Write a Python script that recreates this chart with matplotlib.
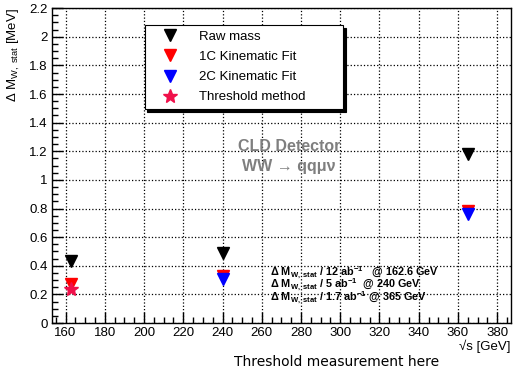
import numpy as np
import matplotlib
matplotlib.use("Agg")
from matplotlib import pyplot as plt
from matplotlib.ticker import MultipleLocator

plt.rcParams['font.family'] = ['Liberation Sans', 'DejaVu Sans']
plt.rcParams['mathtext.fontset'] = 'custom'
plt.rcParams['mathtext.rm'] = 'Liberation Sans'
plt.rcParams['mathtext.bf'] = 'Liberation Sans:bold'
plt.rcParams['mathtext.it'] = 'Liberation Sans:italic'
plt.rcParams['mathtext.default'] = 'regular'

# energies (GeV)
sqrt_s = [162.6, 240, 365]
raw_mass = [0.43, 0.49, 1.18]
fit_1c = [0.27, 0.33, 0.785]
fit_2c_s = [240, 365]
fit_2c = [0.31, 0.765]
thr_s = [162.6]
thr = [0.24]

lumi_labels = [r'$\Delta$ M$_{\mathbf{W,\ stat}}$ / 12 ab$^{\mathbf{-1}}$   @ 162.6 GeV',
               r'$\Delta$ M$_{\mathbf{W,\ stat}}$ / 5 ab$^{\mathbf{-1}}$  @ 240 GeV',
               r'$\Delta$ M$_{\mathbf{W,\ stat}}$ / 1.7 ab$^{\mathbf{-1}}$ @ 365 GeV']

fig = plt.figure(figsize=(5.13, 3.70), dpi=100)
ax = fig.add_axes([0.101, 0.127, 0.895, 0.851])

ax.plot(sqrt_s, raw_mass, 'v', color='black', ms=9, ls='none', label='Raw mass')
ax.plot(sqrt_s, fit_1c, 'v', color='red', ms=9, ls='none', label='1C Kinematic Fit')
ax.plot(fit_2c_s, fit_2c, 'v', color='blue', ms=9, ls='none', label='2C Kinematic Fit')
ax.plot(thr_s, thr, '*', color='#f0104a', ms=10, ls='none', label='Threshold method')

ax.set_xlim(153, 387)
ax.set_ylim(0, 2.2)
ax.xaxis.set_minor_locator(MultipleLocator(5))
ax.yaxis.set_minor_locator(MultipleLocator(0.05))
ax.set_xticks([160, 180, 200, 220, 240, 260, 280, 300, 320, 340, 360, 380])
ax.set_xticklabels(['160', '180', '200', '220', '240', '260', '280', '300', '320', '340', '360', '380'])
yt = np.arange(0, 2.21, 0.2)
ax.set_yticks(yt)
ax.set_yticklabels(['0', '0.2', '0.4', '0.6', '0.8', '1', '1.2', '1.4', '1.6', '1.8', '2', '2.2'])
ax.tick_params(which='major', direction='in', length=8, width=1, labelsize=9.5, pad=3)
ax.tick_params(which='minor', direction='in', length=4, width=1)
ax.grid(True, which='major', ls=':', color='black', lw=0.9)
for s in ax.spines.values():
    s.set_linewidth(1.0)

ax.set_ylabel(r'$\Delta$ M$_{W,\ stat}$ [MeV]', fontsize=9.5, loc='top', labelpad=5)
fig.text(0.996, 0.065, '√s [GeV]', ha='right', va='center', fontsize=9.5)
fig.text(0.657, 0.022, 'Threshold measurement here', ha='center', va='center',
         fontsize=10, family='DejaVu Sans')

ax.text(274, 1.236, 'CLD Detector', color='#7f7f7f', fontsize=11.5, weight='bold', ha='center', va='center')
ax.text(250, 1.096, 'WW → qqμν', color='#7f7f7f', fontsize=11.5, weight='bold', ha='left', va='center')

for i, t in enumerate(lumi_labels):
    ax.text(264, 0.352 - i * 0.088, t, fontsize=7.8, weight='bold', ha='left', va='center')

leg = ax.legend(loc='upper left', bbox_to_anchor=(0.269, 0.711, 0.413, 0.24),
                bbox_transform=fig.transFigure, mode='expand', fontsize=9.5,
                frameon=True, fancybox=False, edgecolor='black', framealpha=1,
                borderpad=0.45, labelspacing=0.6, handlelength=3.0, handletextpad=0.7,
                numpoints=1, shadow={'ox': 2, 'oy': -2, 'color': 'black', 'alpha': 1})
leg.get_frame().set_linewidth(0.8)

fig.savefig('out.png', dpi=100)
